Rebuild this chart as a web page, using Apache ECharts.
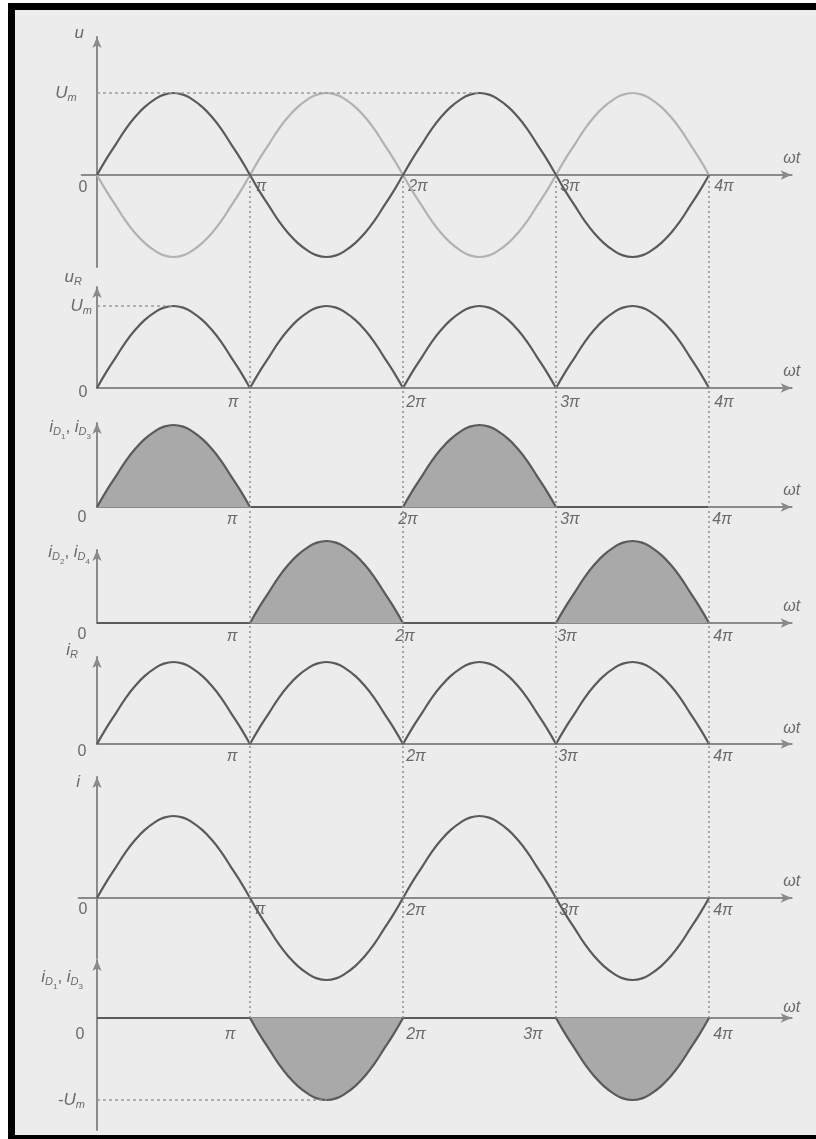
<!DOCTYPE html>
<html>
<head>
<meta charset="utf-8">
<script src="https://cdn.jsdelivr.net/npm/echarts@6.0.0/dist/echarts.min.js"></script>
<style>
html, body { margin: 0; padding: 0; width: 816px; height: 1139px; overflow: hidden; background: #fff; }
.frame { position: absolute; left: 8px; top: 3px; width: 830px; height: 1125px; border: 7px solid #000; border-bottom-width: 5px; background: #ececec; }
#chart { position: absolute; left: 0; top: 0; width: 816px; height: 1139px; }
</style>
</head>
<body>
<div class="frame"></div>
<div id="chart"></div>
<script>
// tick positions in units of pi
var xTickValues = [0, 1, 2, 3, 4];
var xTickLabels = ['0', 'π', '2π', '3π', '4π'];

// one half wave read every pi/16, Um = 1
var halfPhase = [0, 0.0625, 0.125, 0.1875, 0.25, 0.3125, 0.375, 0.4375, 0.5,
                 0.5625, 0.625, 0.6875, 0.75, 0.8125, 0.875, 0.9375, 1];
var halfLevel = [0, 0.2, 0.38, 0.56, 0.71, 0.83, 0.92, 0.98, 1,
                 0.98, 0.92, 0.83, 0.71, 0.56, 0.38, 0.2, 0];

// sign of each of the four half periods, per curve
var uSigns    = [1, -1, 1, -1];
var uBarSigns = [-1, 1, -1, 1];
var uRSigns   = [1, 1, 1, 1];
var iD13Signs = [1, 0, 1, 0];
var iD24Signs = [0, 1, 0, 1];
var iRSigns   = [1, 1, 1, 1];
var iSigns    = [1, -1, 1, -1];
var uDSigns   = [0, -1, 0, -1];

var PX_UM = 82;      // pixels for Um
var PX_PI = 153;     // pixels for pi
var X_MAX = 4.54;
var FONT = '"Liberation Sans", Arial, sans-serif';
var TXT = '#6a6a6a';
var AXIS = '#8a8a8a';
var DARK = '#5a5a5a';
var LIGHT = '#b2b2b2';
var FILL = '#a9a9a9';

var panels = [
  { base: 175, top: 37, bottom: 267, xMin: -0.1, name: '{v|u}', nameGap: 4, namePad: 13,
    curves: [{ signs: uBarSigns, joined: true, color: LIGHT }, { signs: uSigns, joined: true, color: DARK }],
    um: { value: 1, end: 2.5, text: '{v|U}{s|m}', margin: 5 },
    dx: [-14, 11, 15, 14, 15], dy: [13, 12, 12, 12, 12], wt: 16 },
  { base: 388, top: 287, bottom: 388, name: '{v|u}{s|R}', nameGap: 10, namePad: 15,
    curves: [{ signs: uRSigns, color: DARK }],
    um: { value: 1, end: 0.5, text: '{v|U}{s|m}', margin: 5 },
    dx: [-14, -17, 13, 14, 15], dy: [5, 15, 15, 15, 15], wt: 16 },
  { base: 507, top: 423, bottom: 507, name: '{v|i}{s|D}{d|1}{c|, }{v|i}{s|D}{d|3}', nameGap: -4, namePad: 6,
    curves: [{ signs: iD13Signs, color: DARK, fill: true }],
    dx: [-15, -18, 5, 14, 13], dy: [11, 13, 13, 13, 13], wt: 16 },
  { base: 623, top: 550, bottom: 623, name: '{v|i}{s|D}{d|2}{c|, }{v|i}{s|D}{d|4}', nameGap: -2, namePad: 7,
    curves: [{ signs: iD24Signs, color: DARK, fill: true }],
    dx: [-15, -18, 2, 11, 14], dy: [12, 14, 14, 14, 14], wt: 16 },
  { base: 744, top: 657, bottom: 744, name: '{v|i}{s|R}', nameGap: 7, namePad: 19,
    curves: [{ signs: iRSigns, color: DARK }],
    dx: [-15, -18, 13, 12, 14], dy: [8, 13, 13, 13, 13], wt: 15 },
  { base: 898, top: 777, bottom: 958, xMin: -0.12, name: '{v|i}', nameGap: -5, namePad: 17,
    curves: [{ signs: iSigns, joined: true, color: DARK }],
    dx: [-14, 10, 13, 13, 14], dy: [12, 12, 13, 13, 13], wt: 16 },
  { base: 1018, top: 960, bottom: 1130, name: '{v|i}{s|D}{d|1}{c|, }{v|i}{s|D}{d|3}', nameGap: -17, namePad: 14,
    curves: [{ signs: uDSigns, color: DARK, fill: true }],
    um: { value: -1, end: 1.5, text: '{c|-}{v|U}{s|m}', margin: 12 },
    dx: [-17, -20, 13, -23, 14], dy: [17, 17, 17, 17, 17], wt: 10 }
];

var richSub = {
  v: { fontStyle: 'italic', fontSize: 17, lineHeight: 18, verticalAlign: 'middle', color: TXT, fontFamily: FONT },
  c: { fontSize: 17, lineHeight: 18, verticalAlign: 'middle', color: TXT, fontFamily: FONT },
  s: { fontStyle: 'italic', fontSize: 11, lineHeight: 12, padding: [10, 0, 0, 0], verticalAlign: 'middle', color: TXT, fontFamily: FONT },
  d: { fontSize: 8, lineHeight: 9, padding: [19, 0, 0, 0], verticalAlign: 'middle', color: TXT, fontFamily: FONT }
};

function halfWave(k, sign) {
  return halfPhase.map(function (ph, j) { return [k + ph, sign * halfLevel[j]]; });
}

var grids = [], xAxes = [], yAxes = [], series = [];

panels.forEach(function (p, i) {
  var xMin = p.xMin || 0;
  grids.push({ left: 97 + xMin * PX_PI, right: 816 - (97 + X_MAX * PX_PI), top: p.top, height: p.bottom - p.top,
    containLabel: false, outerBoundsMode: 'none' });

  var rich = {};
  xTickValues.forEach(function (v, k) {
    var dx = p.dx[k], dy = p.dy[k];
    rich['t' + k] = {
      fontStyle: k === 0 ? 'normal' : 'italic', fontSize: 16, lineHeight: 18, color: TXT, fontFamily: FONT,
      padding: [2 * dy, dx < 0 ? -2 * dx : 0, 0, dx > 0 ? 2 * dx : 0]
    };
  });

  xAxes.push({
    gridIndex: i, type: 'value', min: xMin, max: X_MAX, position: 'bottom',
    offset: -(p.bottom - p.base),
    axisLine: { onZero: false, symbol: ['none', 'arrow'], symbolSize: [7, 11], lineStyle: { color: AXIS, width: 2 } },
    axisTick: { show: false }, splitLine: { show: false },
    axisLabel: {
      customValues: xTickValues, margin: 0, verticalAlign: 'middle', align: 'center', rich: rich,
      formatter: function (v) { var k = xTickValues.indexOf(Math.round(v)); return '{t' + k + '|' + xTickLabels[k] + '}'; }
    },
    name: 'ωt', nameLocation: 'end', nameGap: 0, nameMoveOverlap: false,
    nameTextStyle: { align: 'center', verticalAlign: 'bottom', padding: [0, 0, p.wt - 8, 0], fontStyle: 'italic',
      fontSize: 16, color: TXT, fontFamily: FONT }
  });

  yAxes.push({
    gridIndex: i, type: 'value',
    min: -(p.bottom - p.base) / PX_UM, max: (p.base - p.top) / PX_UM,
    axisLine: { show: true, onZero: true, symbol: ['none', 'arrow'], symbolSize: [7, 11], lineStyle: { color: AXIS, width: 2 } },
    axisTick: { show: false }, splitLine: { show: false },
    axisLabel: p.um ? {
      customValues: [p.um.value], margin: p.um.margin, rich: richSub,
      formatter: function () { return p.um.text; }
    } : { show: false },
    name: p.name, nameLocation: 'end', nameGap: p.nameGap, nameMoveOverlap: false,
    nameTextStyle: { align: 'right', verticalAlign: 'middle', padding: [0, p.namePad, 0, 0], rich: richSub }
  });

  p.curves.forEach(function (c, ci) {
    var segs = [];
    if (c.joined) {
      var pts = [];
      c.signs.forEach(function (s, k) { pts = pts.concat(halfWave(k, s).slice(k === 0 ? 0 : 1)); });
      segs.push(pts);
    } else {
      c.signs.forEach(function (s, k) { segs.push(halfWave(k, s)); });
    }
    segs.forEach(function (seg, si) {
      var ser = {
        type: 'line', xAxisIndex: i, yAxisIndex: i, data: seg, smooth: true, symbol: 'none', clip: false,
        silent: true, z: 3 + ci,
        lineStyle: { color: c.color, width: 2.2 }
      };
      if (c.fill) ser.areaStyle = { color: FILL, opacity: 1 };
      if (p.um && ci === 0 && si === 0) {
        ser.markLine = {
          silent: true, symbol: 'none', label: { show: false },
          lineStyle: { type: [3, 3], color: '#9a9a9a', width: 1.5 },
          data: [[{ coord: [0, p.um.value] }, { coord: [p.um.end, p.um.value] }]]
        };
      }
      series.push(ser);
    });
  });
});

// dotted verticals at pi, 2pi, 3pi, 4pi across all panels
var gv = panels.length;
grids.push({ left: 97, right: 816 - (97 + X_MAX * PX_PI), top: panels[0].base,
  height: panels[panels.length - 1].base - panels[0].base, containLabel: false, outerBoundsMode: 'none' });
xAxes.push({ gridIndex: gv, type: 'value', min: 0, max: X_MAX, show: false });
yAxes.push({ gridIndex: gv, type: 'value', min: 0, max: 1, show: false });
series.push({
  type: 'line', xAxisIndex: gv, yAxisIndex: gv, data: [[0, 0]], symbol: 'none', silent: true, z: 1,
  lineStyle: { width: 0 },
  markLine: {
    silent: true, symbol: 'none', label: { show: false },
    lineStyle: { type: [2, 3], color: '#8e8e8e', width: 1.5 },
    data: xTickValues.slice(1).map(function (v) { return { xAxis: v }; })
  }
});

var myChart = echarts.init(document.getElementById('chart'));
myChart.setOption({
  animation: false,
  backgroundColor: 'transparent',
  textStyle: { fontFamily: FONT, color: TXT },
  grid: grids,
  xAxis: xAxes,
  yAxis: yAxes,
  series: series
});

window.addEventListener('resize', function () {
  myChart.resize();
});
</script>
</body>
</html>
